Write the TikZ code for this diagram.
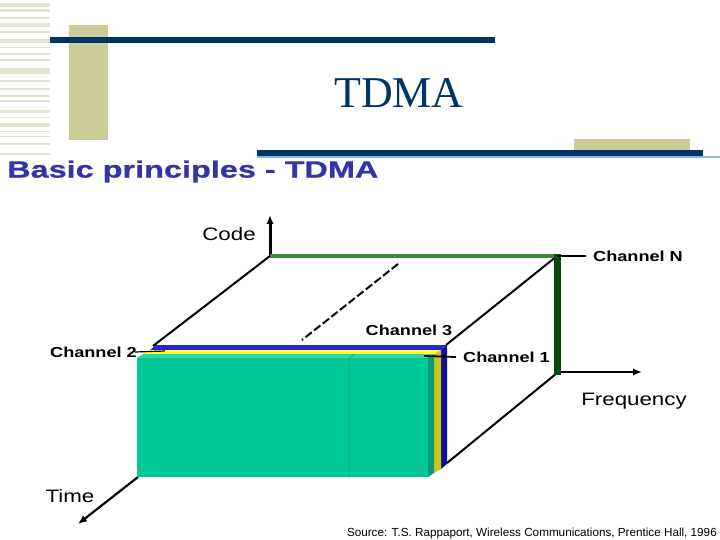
\documentclass[tikz,border=0pt]{standalone}
\usepackage{fontspec}
\setmainfont{Liberation Sans}
\newfontfamily\titlefont{Liberation Serif}
\newfontfamily\headfont[FakeStretch=1.38, BoldFeatures={FakeBold=0.8}]{Liberation Sans}
\newfontfamily\axfont[FakeStretch=1.24]{Liberation Sans}
\newfontfamily\chfont[FakeStretch=1.25]{Liberation Sans}
\usetikzlibrary{arrows.meta,positioning,calc}

\definecolor{navy}{HTML}{003366}
\definecolor{khaki}{HTML}{CCCC99}
\definecolor{stripe}{HTML}{E3E3CF}
\definecolor{headblue}{HTML}{3434A8}
\definecolor{rulelight}{HTML}{88B8E8}
\definecolor{topgreen}{HTML}{3A8A3A}
\definecolor{darkgreen}{HTML}{0A4A0A}
\definecolor{slabblue}{HTML}{2626C8}
\definecolor{slabblueside}{HTML}{10109C}
\definecolor{slabyellow}{HTML}{FFFF40}
\definecolor{slabyellowside}{HTML}{C8C814}
\definecolor{slabgreen}{HTML}{00C896}
\definecolor{slabgreentop}{HTML}{36D2A2}
\definecolor{slabgreenside}{HTML}{0A9C78}
\definecolor{divider}{HTML}{10A47C}

\tikzset{
  axarrow/.style={line width=2.2pt, -{Latex[length=9pt,width=7.5pt]}},
  edge/.style={line width=2pt},
  axlabel/.style={inner sep=0pt, font=\axfont\fontsize{18}{20}\selectfont},
  chlabel/.style={inner sep=0pt, font=\chfont\bfseries\fontsize{14.5}{16}\selectfont},
  tick/.style={line width=1.8pt}
}

\begin{document}
\begin{tikzpicture}[x=1pt, y=-1pt]
        \useasboundingbox (0,0) rectangle (720,540);

        % Slide header
        \foreach \a/\b in {3/7, 9/12, 17/19, 23/27, 31/33, 39/43, 47/48.5, 53/55, 59/61, 68/74, 80/82, 88/90, 95/97, 100/102, 110/113, 117/118.5, 123/127, 131/132.5, 136/137.5, 143/145, 153/155}
            \fill[stripe] (0,\a) rectangle (50,\b);
        \fill[khaki] (69,25) rectangle (108,140);
        \fill[khaki] (574,139) rectangle (690,151);
        \fill[navy] (50,37) rectangle (495,43);
        \draw[rulelight, line width=1.2pt] (257,157) -- (720,157);
        \fill[navy] (257,150) rectangle (703,156);
        \node[inner sep=0pt, navy, font=\titlefont\fontsize{44}{48}\selectfont] (title) at (399,93) {TDMA};
        \node[anchor=west, inner sep=0pt, headblue, font=\headfont\bfseries\fontsize{23.5}{26}\selectfont] (subtitle) at (7,171.5) {Basic principles - TDMA};

        % Axes and cube edges
        \coordinate (O) at (270,256);
        \coordinate (N) at (557,256);
        \coordinate (F) at (557,373);
        \coordinate (codetip) at (270,215);
        \coordinate (freqtip) at (642,372);
        \coordinate (timebase) at (138,477);
        \coordinate (timetip) at (78,524);
        \draw[axarrow, line width=3pt] (O) -- (codetip);
        \draw[axarrow] ($(F)+(3,-1)$) -- (freqtip);
        \draw[axarrow] (timebase) -- (timetip);
        \draw[edge] (O) -- (153,346);
        \draw[edge] (N) -- (446,345);
        \draw[edge] (F) -- (447,463);
        \draw[edge, dash pattern=on 8pt off 3pt] (398,264) -- (302,340);
        \draw[topgreen, line width=4.5pt] (O) -- (N);
        \draw[darkgreen, line width=7pt] ($(N)+(0,-2)$) -- ($(F)+(0,2)$);

        % Channel slabs
        \fill[slabblue] (150,350) -- (156,345) -- (447,345) -- (441,350) -- cycle;
        \fill[slabblueside] (441,350) -- (447,345) -- (447,464) -- (441,469) -- cycle;
        \fill[slabyellow] (143,354) -- (150,350) -- (441,350) -- (434,354) -- cycle;
        \fill[slabyellowside] (434,354) -- (441,350) -- (441,469) -- (434,473) -- cycle;
        \fill[slabgreentop] (137,358) -- (143,354) -- (434,354) -- (428,358) -- cycle;
        \fill[slabgreenside] (428,358) -- (434,354) -- (434,473) -- (428,477) -- cycle;
        \fill[slabgreen] (137,358) rectangle (428,477);
        \draw[divider, line width=0.8pt] (355,354) -- (349,358) -- (349,477);

        % Labels
        \node[axlabel] (code) at (229,234) {Code};
        \node[axlabel] (freq) at (634,401) {Frequency};
        \node[axlabel] (time) at (70,496) {Time};
        \node[chlabel, anchor=west] (chN) at (593,256) {Channel N};
        \node[chlabel] (ch3) at (409,330) {Channel 3};
        \node[chlabel, anchor=west] (ch1) at (463,357) {Channel 1};
        \node[chlabel, anchor=east] (ch2) at (137,352) {Channel 2};
        \coordinate (ch1tip) at (424,356);
        \coordinate (ch2tip) at (165,351);
        \draw[tick] (N) -- ([xshift=-7pt]chN.west);
        \draw[tick] (ch1tip) -- ([xshift=-7pt]ch1.west);
        \draw[line width=1.2pt] ([xshift=-2pt]ch2.east) -- (ch2tip);
        \node[anchor=east, inner sep=0pt, font=\fontsize{11.7}{13}\selectfont] (source) at (717,533) {Source: T.S. Rappaport, Wireless Communications, Prentice Hall, 1996};
    \end{tikzpicture}
\end{document}
